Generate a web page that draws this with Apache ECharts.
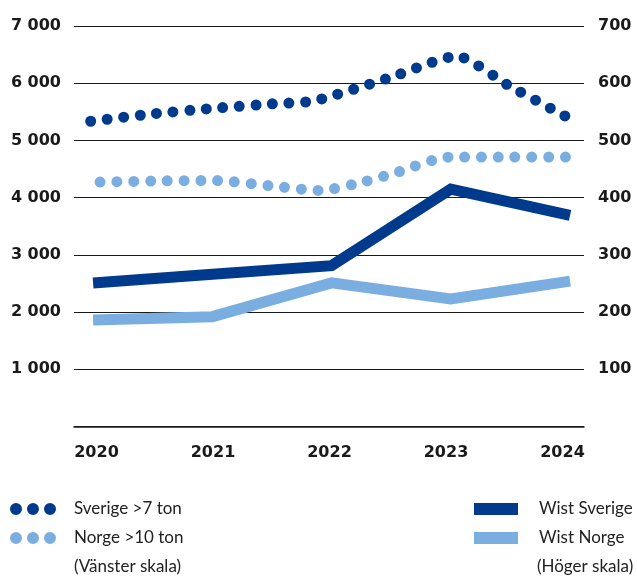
<!DOCTYPE html>
<html>
<head>
<meta charset="utf-8">
<script src="https://cdn.jsdelivr.net/npm/echarts@6/dist/echarts.min.js"></script>
<style>html,body{margin:0;padding:0;background:#fff}#c{width:637px;height:576px}</style>
</head>
<body>
<div id="c"></div>
<script>
// Year labels on the x axis
var years = ['2020', '2021', '2022', '2023', '2024'];

// Left scale (dotted): [year position, value]
var sverige7ton = [[2019.98, 5335], [2020.5, 5465], [2021, 5560], [2021.5, 5640], [2021.85, 5690], [2022.5, 6105], [2023.05, 6475], [2023.5, 5940], [2024, 5380]];
var norge10ton = [[2020, 4270], [2020.5, 4290], [2021, 4300], [2021.5, 4205], [2021.9, 4125], [2022.2, 4240], [2022.5, 4410], [2023, 4710], [2023.5, 4710], [2024, 4710]];

// Right scale (solid)
var wistYears = [2020, 2021, 2022, 2023, 2024];
var wistSverige = [251, 266, 281, 415, 369];
var wistNorge = [186, 192, 251, 223, 254];

var DARK = '#003a8c';
var LIGHT = '#7aaee0';
var dotsIcon = 'path://M0,6a6,6 0 1,0 12,0a6,6 0 1,0 -12,0ZM17,6a6,6 0 1,0 12,0a6,6 0 1,0 -12,0ZM34,6a6,6 0 1,0 12,0a6,6 0 1,0 -12,0Z';

function pair(xs, ys) { return xs.map(function (x, i) { return [x, ys[i]]; }); }

var chart = echarts.init(document.getElementById('c'), null, {renderer: 'canvas'});
var axisFont = {fontFamily: 'DejaVu Sans', fontWeight: 'bold', fontSize: 16, color: '#1a1a1a'};
var legendText = {fontFamily: 'Lato', fontSize: 17, color: '#222', lineHeight: 18};
chart.setOption({
  animation: false,
  backgroundColor: '#fff',
  title: [
    {text: '(Vänster skala)', left: 74, top: 558, padding: 0, textStyle: {fontFamily: 'Lato', fontWeight: 'normal', fontSize: 17, color: '#222'}},
    {text: '(Höger skala)', left: 537, top: 558, padding: 0, textStyle: {fontFamily: 'Lato', fontWeight: 'normal', fontSize: 17, color: '#222'}}
  ],
  grid: [
    {left: 74, right: 53, top: 26, bottom: 149.5},
    {left: 96.5, right: 74.5, top: 26, bottom: 149.5}
  ],
  xAxis: [
    {type: 'value', gridIndex: 0, min: 2019.84, max: 2024.117,
     axisLine: {show: true, onZero: false, lineStyle: {color: '#1a1a1a', width: 1.5}},
     axisTick: {show: false}, axisLabel: {show: false}, splitLine: {show: false}},
    {type: 'category', gridIndex: 1, data: years, boundaryGap: false,
     axisLine: {show: false}, axisTick: {show: false},
     axisLabel: Object.assign({margin: 18}, axisFont), splitLine: {show: false}}
  ],
  yAxis: [
    {type: 'value', gridIndex: 0, min: 0, max: 7000, interval: 1000, position: 'left',
     axisLine: {show: false}, axisTick: {show: false},
     axisLabel: Object.assign({margin: 13, formatter: function (v) { return v === 0 ? '' : (v / 1000) + ' 000'; }}, axisFont),
     splitLine: {show: true, lineStyle: {color: '#1a1a1a', width: 1.2}}},
    {type: 'value', gridIndex: 0, min: 0, max: 700, interval: 100, position: 'right',
     axisLine: {show: false}, axisTick: {show: false},
     axisLabel: Object.assign({margin: 14, formatter: function (v) { return v === 0 ? '' : String(v); }}, axisFont),
     splitLine: {show: false}},
    {type: 'value', gridIndex: 1, show: false, min: 0, max: 1}
  ],
  legend: [
    {left: 10, top: 500, padding: 0, orient: 'vertical', itemGap: 11, itemWidth: 46, itemHeight: 12,
     textStyle: Object.assign({padding: [0, 0, 0, 13]}, legendText),
     data: [{name: 'Sverige >7 ton', icon: dotsIcon}, {name: 'Norge >10 ton', icon: dotsIcon}]},
    {left: 474, top: 500, padding: 0, orient: 'vertical', itemGap: 11, itemWidth: 44, itemHeight: 12,
     textStyle: Object.assign({padding: [0, 0, 0, 16]}, legendText),
     data: [{name: 'Wist Sverige', icon: 'rect'}, {name: 'Wist Norge', icon: 'rect'}]}
  ],
  series: [
    {name: 'Wist Norge', type: 'line', xAxisIndex: 0, yAxisIndex: 1, data: pair(wistYears, wistNorge),
     showSymbol: false, symbol: 'none', itemStyle: {color: LIGHT},
     lineStyle: {color: LIGHT, width: 11, cap: 'butt', join: 'miter'}},
    {name: 'Wist Sverige', type: 'line', xAxisIndex: 0, yAxisIndex: 1, data: pair(wistYears, wistSverige),
     showSymbol: false, symbol: 'none', itemStyle: {color: DARK},
     lineStyle: {color: DARK, width: 11, cap: 'butt', join: 'miter'}},
    {name: 'Norge >10 ton', type: 'line', xAxisIndex: 0, yAxisIndex: 0, data: norge10ton,
     showSymbol: false, symbol: 'none', smooth: 0.25, itemStyle: {color: LIGHT},
     lineStyle: {color: LIGHT, width: 11, type: [0, 16.8], dashOffset: 9.8, cap: 'round'}},
    {name: 'Sverige >7 ton', type: 'line', xAxisIndex: 0, yAxisIndex: 0, data: sverige7ton,
     showSymbol: false, symbol: 'none', smooth: 0.2, itemStyle: {color: DARK},
     lineStyle: {color: DARK, width: 11, type: [0, 16.6], cap: 'round'}}
  ]
});
</script>
</body>
</html>
